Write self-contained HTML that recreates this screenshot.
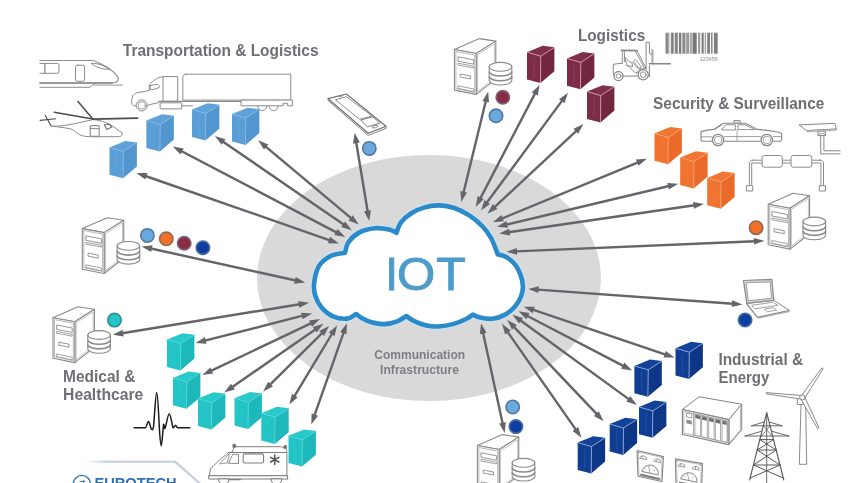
<!DOCTYPE html>
<html><head><meta charset="utf-8"><title>IOT</title>
<style>html,body{margin:0;padding:0;background:#fff;}body{width:857px;height:483px;overflow:hidden;font-family:"Liberation Sans",sans-serif;}</style>
</head><body>
<svg width="857" height="483" viewBox="0 0 857 483" style="display:block;font-family:'Liberation Sans',sans-serif;will-change:transform;filter:blur(0.55px)">
<defs><symbol id="srv" overflow="visible"><g fill="#fff" stroke="#8a8a8a" stroke-width="1.1" stroke-linejoin="round">
<polygon points="0,10.9 25,0 41.4,2.5 21.8,14.9"/>
<polygon points="21.8,14.9 41.4,2.5 41.4,40.5 21.8,55.8"/>
<polygon points="23.2,16 40.2,5.2 40.2,39.4 23.2,53" stroke-width="0.5"/>
<polygon points="0,10.9 21.8,14.9 21.8,55.8 0,51.5"/>
<polygon points="1.5,12.9 20.3,16.4 20.3,53.8 1.5,50" stroke-width="0.6"/>
<polygon points="3.6,18.2 19.2,21.2 19.2,25.6 3.6,22.6" stroke-width="0.9"/>
<polygon points="3.6,24.6 19.2,27.6 19.2,29.4 3.6,26.4" stroke-width="0.8"/>
<polygon points="5.8,35.4 16,37.4 16,40.4 5.8,38.4" stroke-width="0.9"/>
<polygon points="3.6,47.2 19.2,50.4 19.2,53 3.6,49.8" stroke-width="0.8"/>
<path d="M34.8,28.2 v13.8 a11.3,4.4 0 0 0 22.6,0 v-13.8 z" />
<ellipse cx="46.1" cy="28.2" rx="11.3" ry="4.4"/>
<path d="M34.8,33 a11.3,4.4 0 0 0 22.6,0 M34.8,37.7 a11.3,4.4 0 0 0 22.6,0" fill="none" stroke-width="1.6"/>
</g></symbol></defs>
<rect width="857" height="483" fill="#fff"/>
<ellipse cx="429" cy="278" rx="172" ry="123" fill="#d9d9d9"/>
<g id="arrows">
<line x1="145.4" y1="176.0" x2="329.9" y2="240.3" stroke="#63656b" stroke-width="2.4"/><polygon points="338.9,243.4 327.9,243.2 330.1,236.7" fill="#63656b"/><polygon points="136.4,172.9 145.2,179.6 147.4,173.1" fill="#63656b"/>
<line x1="181.2" y1="151.0" x2="336.8" y2="232.6" stroke="#63656b" stroke-width="2.4"/><polygon points="345.2,237.0 334.3,235.1 337.5,229.1" fill="#63656b"/><polygon points="172.8,146.6 180.5,154.5 183.7,148.5" fill="#63656b"/>
<line x1="222.7" y1="141.4" x2="344.0" y2="224.8" stroke="#63656b" stroke-width="2.4"/><polygon points="351.8,230.2 341.2,227.0 345.1,221.4" fill="#63656b"/><polygon points="214.9,136.0 221.6,144.8 225.5,139.2" fill="#63656b"/>
<line x1="265.4" y1="146.4" x2="351.4" y2="218.4" stroke="#63656b" stroke-width="2.4"/><polygon points="358.7,224.5 348.5,220.4 352.8,215.2" fill="#63656b"/><polygon points="258.1,140.3 264.0,149.6 268.3,144.4" fill="#63656b"/>
<line x1="356.2" y1="142.2" x2="367.7" y2="211.7" stroke="#63656b" stroke-width="2.4"/><polygon points="369.2,221.1 364.1,211.3 370.9,210.2" fill="#63656b"/><polygon points="354.7,132.8 353.0,143.7 359.8,142.6" fill="#63656b"/>
<line x1="485.9" y1="100.7" x2="463.5" y2="192.7" stroke="#63656b" stroke-width="2.4"/><polygon points="461.2,201.9 460.4,190.9 467.0,192.5" fill="#63656b"/><polygon points="488.2,91.5 482.4,100.9 489.0,102.5" fill="#63656b"/>
<line x1="535.2" y1="93.1" x2="480.2" y2="198.6" stroke="#63656b" stroke-width="2.4"/><polygon points="475.8,207.0 477.6,196.1 483.7,199.3" fill="#63656b"/><polygon points="539.6,84.7 531.7,92.4 537.8,95.6" fill="#63656b"/>
<line x1="562.3" y1="100.4" x2="486.7" y2="202.8" stroke="#63656b" stroke-width="2.4"/><polygon points="481.0,210.4 484.5,199.9 490.0,204.0" fill="#63656b"/><polygon points="568.0,92.8 559.0,99.2 564.5,103.3" fill="#63656b"/>
<line x1="576.6" y1="130.6" x2="494.3" y2="207.3" stroke="#63656b" stroke-width="2.4"/><polygon points="487.4,213.8 492.8,204.1 497.4,209.1" fill="#63656b"/><polygon points="583.5,124.1 573.5,128.8 578.1,133.8" fill="#63656b"/>
<line x1="638.1" y1="162.3" x2="501.7" y2="218.6" stroke="#63656b" stroke-width="2.4"/><polygon points="492.9,222.2 501.3,215.1 503.9,221.3" fill="#63656b"/><polygon points="646.9,158.7 635.9,159.6 638.5,165.8" fill="#63656b"/>
<line x1="669.1" y1="186.0" x2="506.2" y2="224.6" stroke="#63656b" stroke-width="2.4"/><polygon points="497.0,226.8 506.4,221.1 508.0,227.7" fill="#63656b"/><polygon points="678.3,183.8 667.3,182.9 668.9,189.5" fill="#63656b"/>
<line x1="694.5" y1="205.3" x2="508.6" y2="232.2" stroke="#63656b" stroke-width="2.4"/><polygon points="499.2,233.6 509.1,228.7 510.1,235.5" fill="#63656b"/><polygon points="703.9,203.9 693.0,202.0 694.0,208.8" fill="#63656b"/>
<line x1="754.9" y1="241.2" x2="516.0" y2="251.4" stroke="#63656b" stroke-width="2.4"/><polygon points="506.5,251.8 516.8,248.0 517.1,254.7" fill="#63656b"/><polygon points="764.4,240.8 753.8,237.9 754.1,244.6" fill="#63656b"/>
<line x1="732.9" y1="303.7" x2="537.7" y2="289.6" stroke="#63656b" stroke-width="2.4"/><polygon points="528.2,288.9 538.9,286.3 538.4,293.0" fill="#63656b"/><polygon points="742.4,304.4 732.2,300.3 731.7,307.0" fill="#63656b"/>
<line x1="665.6" y1="354.6" x2="532.8" y2="309.7" stroke="#63656b" stroke-width="2.4"/><polygon points="523.8,306.7 534.8,306.8 532.7,313.3" fill="#63656b"/><polygon points="674.6,357.6 665.7,351.0 663.6,357.5" fill="#63656b"/>
<line x1="623.7" y1="366.1" x2="527.0" y2="315.7" stroke="#63656b" stroke-width="2.4"/><polygon points="518.6,311.3 529.5,313.1 526.3,319.2" fill="#63656b"/><polygon points="632.1,370.5 624.4,362.6 621.2,368.7" fill="#63656b"/>
<line x1="629.1" y1="399.4" x2="520.2" y2="320.3" stroke="#63656b" stroke-width="2.4"/><polygon points="512.5,314.7 523.0,318.1 519.0,323.6" fill="#63656b"/><polygon points="636.8,405.0 630.3,396.1 626.3,401.6" fill="#63656b"/>
<line x1="597.1" y1="414.3" x2="513.7" y2="326.6" stroke="#63656b" stroke-width="2.4"/><polygon points="507.2,319.7 516.9,325.0 512.0,329.7" fill="#63656b"/><polygon points="603.6,421.2 598.8,411.2 593.9,415.9" fill="#63656b"/>
<line x1="576.0" y1="429.9" x2="507.4" y2="331.6" stroke="#63656b" stroke-width="2.4"/><polygon points="502.0,323.8 510.8,330.5 505.2,334.4" fill="#63656b"/><polygon points="581.4,437.7 578.2,427.1 572.6,431.0" fill="#63656b"/>
<line x1="502.7" y1="423.7" x2="483.0" y2="332.6" stroke="#63656b" stroke-width="2.4"/><polygon points="481.0,323.3 486.5,332.8 479.9,334.3" fill="#63656b"/><polygon points="504.7,433.0 505.8,422.0 499.2,423.5" fill="#63656b"/>
<line x1="314.4" y1="415.6" x2="343.8" y2="332.2" stroke="#63656b" stroke-width="2.4"/><polygon points="346.9,323.2 346.6,334.2 340.2,332.0" fill="#63656b"/><polygon points="311.3,424.6 318.0,415.8 311.6,413.6" fill="#63656b"/>
<line x1="294.3" y1="396.3" x2="332.2" y2="333.5" stroke="#63656b" stroke-width="2.4"/><polygon points="337.1,325.4 334.6,336.1 328.8,332.6" fill="#63656b"/><polygon points="289.4,404.4 297.7,397.2 291.9,393.7" fill="#63656b"/>
<line x1="269.8" y1="384.8" x2="322.4" y2="332.8" stroke="#63656b" stroke-width="2.4"/><polygon points="329.1,326.1 324.0,335.9 319.2,331.1" fill="#63656b"/><polygon points="263.1,391.5 273.0,386.5 268.2,381.7" fill="#63656b"/>
<line x1="232.0" y1="387.2" x2="315.6" y2="329.2" stroke="#63656b" stroke-width="2.4"/><polygon points="323.4,323.8 316.7,332.6 312.8,327.0" fill="#63656b"/><polygon points="224.2,392.6 234.8,389.4 230.9,383.8" fill="#63656b"/>
<line x1="210.9" y1="370.9" x2="311.4" y2="323.2" stroke="#63656b" stroke-width="2.4"/><polygon points="320.0,319.1 312.0,326.7 309.1,320.5" fill="#63656b"/><polygon points="202.3,375.0 213.2,373.6 210.3,367.4" fill="#63656b"/>
<line x1="204.8" y1="340.7" x2="302.8" y2="315.7" stroke="#63656b" stroke-width="2.4"/><polygon points="312.0,313.4 302.7,319.3 301.0,312.7" fill="#63656b"/><polygon points="195.6,343.0 206.6,343.7 204.9,337.1" fill="#63656b"/>
<line x1="122.2" y1="333.2" x2="299.7" y2="304.2" stroke="#63656b" stroke-width="2.4"/><polygon points="309.1,302.7 299.3,307.7 298.2,301.0" fill="#63656b"/><polygon points="112.8,334.7 123.7,336.4 122.6,329.7" fill="#63656b"/>
<line x1="150.9" y1="248.5" x2="295.9" y2="280.5" stroke="#63656b" stroke-width="2.4"/><polygon points="305.2,282.6 294.2,283.7 295.7,277.0" fill="#63656b"/><polygon points="141.6,246.4 151.1,252.0 152.6,245.3" fill="#63656b"/>
</g>
<path d="M356,314 C354.5,314.8 350.8,318.2 347.0,318.6 C343.2,319.0 337.2,318.1 333.0,316.3 C328.8,314.5 324.8,311.2 321.8,307.7 C318.8,304.2 316.5,299.7 315.2,295.5 C313.9,291.3 313.6,287.4 314.2,282.5 C314.8,277.6 316.3,270.4 319.0,266.0 C321.7,261.6 325.9,258.4 330.2,256.2 C334.5,254.0 342.5,253.4 345.0,252.8 C345.6,251.0 346.2,245.4 348.6,242.0 C351.0,238.6 355.1,234.7 359.5,232.4 C363.9,230.1 370.1,228.7 375.0,228.2 C379.9,227.7 385.4,228.8 389.0,229.6 C392.6,230.4 395.2,232.3 396.5,232.8 C397.2,231.1 398.6,225.6 401.0,222.4 C403.4,219.2 407.1,216.0 410.9,213.5 C414.7,211.0 419.2,208.9 423.9,207.6 C428.6,206.2 434.0,205.3 439.1,205.4 C444.2,205.5 449.2,206.3 454.3,208.0 C459.4,209.7 464.9,212.6 469.6,215.7 C474.3,218.8 479.0,222.7 482.6,226.5 C486.2,230.3 489.0,234.3 491.3,238.5 C493.6,242.7 495.6,248.9 496.7,251.5 C497.8,254.1 497.5,253.8 497.6,254.3 C499.1,254.8 503.6,255.5 506.5,257.2 C509.4,258.9 512.8,261.6 515.2,264.6 C517.6,267.6 519.4,271.8 520.7,275.4 C522.0,279.0 522.8,282.9 522.9,286.3 C523.0,289.7 522.5,292.7 521.2,296.0 C520.0,299.3 518.1,302.8 515.4,305.9 C512.7,309.0 509.0,312.5 505.1,314.6 C501.2,316.8 496.5,318.3 492.3,318.8 C488.1,319.3 483.2,318.3 480.0,317.6 C476.8,316.9 474.2,315.1 473.0,314.6 C471.9,315.3 469.8,317.2 466.6,318.8 C463.4,320.4 458.5,322.6 453.8,323.9 C449.1,325.2 443.1,326.3 438.4,326.5 C433.7,326.7 429.8,326.2 425.5,325.2 C421.2,324.2 415.9,321.8 412.7,320.3 C409.5,318.8 407.4,316.7 406.3,316.0 C404.8,316.9 400.9,319.9 397.3,321.3 C393.7,322.7 388.8,323.9 384.5,324.1 C380.2,324.3 375.5,323.4 371.6,322.3 C367.7,321.2 363.9,319.1 361.3,317.7 C358.7,316.3 356.9,314.6 356.0,314.0 Z" fill="#fff" stroke="#cfe5f3" stroke-width="7" stroke-linejoin="round" opacity="0.8"/>
<path d="M356,314 C354.5,314.8 350.8,318.2 347.0,318.6 C343.2,319.0 337.2,318.1 333.0,316.3 C328.8,314.5 324.8,311.2 321.8,307.7 C318.8,304.2 316.5,299.7 315.2,295.5 C313.9,291.3 313.6,287.4 314.2,282.5 C314.8,277.6 316.3,270.4 319.0,266.0 C321.7,261.6 325.9,258.4 330.2,256.2 C334.5,254.0 342.5,253.4 345.0,252.8 C345.6,251.0 346.2,245.4 348.6,242.0 C351.0,238.6 355.1,234.7 359.5,232.4 C363.9,230.1 370.1,228.7 375.0,228.2 C379.9,227.7 385.4,228.8 389.0,229.6 C392.6,230.4 395.2,232.3 396.5,232.8 C397.2,231.1 398.6,225.6 401.0,222.4 C403.4,219.2 407.1,216.0 410.9,213.5 C414.7,211.0 419.2,208.9 423.9,207.6 C428.6,206.2 434.0,205.3 439.1,205.4 C444.2,205.5 449.2,206.3 454.3,208.0 C459.4,209.7 464.9,212.6 469.6,215.7 C474.3,218.8 479.0,222.7 482.6,226.5 C486.2,230.3 489.0,234.3 491.3,238.5 C493.6,242.7 495.6,248.9 496.7,251.5 C497.8,254.1 497.5,253.8 497.6,254.3 C499.1,254.8 503.6,255.5 506.5,257.2 C509.4,258.9 512.8,261.6 515.2,264.6 C517.6,267.6 519.4,271.8 520.7,275.4 C522.0,279.0 522.8,282.9 522.9,286.3 C523.0,289.7 522.5,292.7 521.2,296.0 C520.0,299.3 518.1,302.8 515.4,305.9 C512.7,309.0 509.0,312.5 505.1,314.6 C501.2,316.8 496.5,318.3 492.3,318.8 C488.1,319.3 483.2,318.3 480.0,317.6 C476.8,316.9 474.2,315.1 473.0,314.6 C471.9,315.3 469.8,317.2 466.6,318.8 C463.4,320.4 458.5,322.6 453.8,323.9 C449.1,325.2 443.1,326.3 438.4,326.5 C433.7,326.7 429.8,326.2 425.5,325.2 C421.2,324.2 415.9,321.8 412.7,320.3 C409.5,318.8 407.4,316.7 406.3,316.0 C404.8,316.9 400.9,319.9 397.3,321.3 C393.7,322.7 388.8,323.9 384.5,324.1 C380.2,324.3 375.5,323.4 371.6,322.3 C367.7,321.2 363.9,319.1 361.3,317.7 C358.7,316.3 356.9,314.6 356.0,314.0 Z" fill="#fff" stroke="#2b8aca" stroke-width="4.6" stroke-linejoin="round"/>
<g font-size="46" fill="#4c9bcb" stroke="#4c9bcb" stroke-width="0.9"><text x="385.2" y="289.8">I</text><text x="397" y="289.8" textLength="38.3" lengthAdjust="spacingAndGlyphs">O</text><text x="436.2" y="289.8" textLength="29.5" lengthAdjust="spacingAndGlyphs">T</text></g>
<text x="122.8" y="56.0" font-size="16.3" font-weight="bold" fill="#6d6f74" textLength="195.7" lengthAdjust="spacingAndGlyphs">Transportation &amp; Logistics</text>
<text x="577.9" y="41.2" font-size="16.3" font-weight="bold" fill="#6d6f74" textLength="67.3" lengthAdjust="spacingAndGlyphs">Logistics</text>
<text x="653.1" y="109.0" font-size="16.3" font-weight="bold" fill="#6d6f74" textLength="171.2" lengthAdjust="spacingAndGlyphs">Security &amp; Surveillance</text>
<text x="718.4" y="364.5" font-size="16.3" font-weight="bold" fill="#6d6f74" textLength="84.7" lengthAdjust="spacingAndGlyphs">Industrial &amp;</text>
<text x="718.5" y="383.1" font-size="16.3" font-weight="bold" fill="#6d6f74" textLength="50.8" lengthAdjust="spacingAndGlyphs">Energy</text>
<text x="63.1" y="381.5" font-size="16.3" font-weight="bold" fill="#6d6f74" textLength="72.3" lengthAdjust="spacingAndGlyphs">Medical &amp;</text>
<text x="63.1" y="399.9" font-size="16.3" font-weight="bold" fill="#6d6f74" textLength="80.2" lengthAdjust="spacingAndGlyphs">Healthcare</text>
<text x="374.2" y="359.3" font-size="12" font-weight="bold" fill="#7d7f84" textLength="91" lengthAdjust="spacingAndGlyphs">Communication</text>
<text x="380.1" y="373.9" font-size="12" font-weight="bold" fill="#7d7f84" textLength="78.8" lengthAdjust="spacingAndGlyphs">Infrastructure</text>
<g id="icons"><g id="train" fill="none" stroke="#8b8b8b" stroke-width="1" stroke-linecap="round" stroke-linejoin="round">
<path d="M39.9,60.5 H92 C96,60.6 98,62.3 107.3,67.5 C112,70.3 116,74 118.2,77.6 C119,80.5 116.5,83 112,83 H39.9" stroke-width="1.1"/>
<path d="M39.9,83 H112" stroke-width="1.4"/>
<path d="M94.5,85.1 H122.5" stroke-width="0.9"/>
<path d="M39.9,87.3 H89.8 L95.1,83.3"/>
<path d="M39.9,63.4 H57.2 a1.7,1.7 0 0 1 1.7,1.7 V71.6 a1.7,1.7 0 0 1 -1.7,1.7 H39.9"/>
<path d="M44.9,63.4 V73.3" stroke-width="1.3"/>
<rect x="75.5" y="65.2" width="9.1" height="16.1" rx="1.8"/>
<path d="M91.6,63.5 C96,62.8 101,64.2 109.7,69.3 C103,69.6 96,67.6 91.6,63.5 Z"/>
</g>
<g id="heli" fill="none" stroke-linecap="round" stroke-linejoin="round">
<g stroke="#8a8a8a" stroke-width="1">
<path d="M51,125.8 L69.7,128.6 C73,129.3 75,131.5 77.4,133.5 C81,135.7 85,136.7 88.9,136.7 H119.2 C121.5,136.5 122.6,134.5 122.2,132.9 L112,125.8 C108,123.3 104,121.6 99,120.4 L93,119.6"/>
<path d="M91.5,120 C85,121.3 79,122.8 73.5,123.9 C66,125.3 59,126.3 52.5,126.4"/>
<rect x="90.2" y="125.6" width="9" height="10.6" rx="1.2" stroke-width="1.1"/>
<path d="M90.5,128.6 H99"/>
<path d="M104.3,124.8 L109.5,124.3 L111.8,127.1 L106.9,129.4 Z" stroke="#6f6f6f" stroke-width="1.1"/>
</g>
<g stroke="#4d4d4d">
<path d="M92.8,119.1 L78,101.4" stroke-width="1.5"/>
<path d="M92.8,119.1 L54.3,112.3" stroke-width="1.5"/>
<path d="M92.8,119.1 L137.7,118.1" stroke-width="1.6"/>
<path d="M40.1,120.4 L55.5,118.7" stroke-width="1.1"/>
<path d="M45.3,115.5 L51,125.8" stroke-width="1.1"/>
</g>
</g>
<g id="truck" fill="#fff" stroke="#8b8b8b" stroke-width="1" stroke-linejoin="round" stroke-linecap="round">
<path d="M186,74.2 H290.8 V100.1 H182.8 V77.4 a3.2,3.2 0 0 1 3.2,-3.2 Z"/>
<path d="M163.4,76.6 H177.7 V101.3 H163.4 Z"/>
<path d="M163.4,76.6 C160,77 157.5,78 155.6,79.3 C153,81 151,82.8 149.5,84.4 L149.1,90.5 C145,91.5 141,92 137.3,92.6 C135,93.5 133.5,94.5 132.8,95.6 C132,98 131.5,100.5 131.5,102.8 C132,104.5 133,105.5 134.2,105.8 H136 M147.4,105.4 C150,104.6 154,103.6 158.7,102.6 L160,101.3 H163.4" fill="none"/>
<path d="M150.5,85.6 C153,84.8 155.5,84.4 157.7,84.4 C159,85.2 159.5,86.4 159.3,87.5 C156.5,88.8 153.5,89.6 150.5,89.9 Z"/>
<path d="M158.7,101.3 H241.4" fill="none" stroke-width="1.2"/>
<rect x="160.1" y="102.8" width="21.7" height="6.1" rx="0.8"/>
<path d="M181.8,105.8 H192.4" fill="none"/>
<path d="M241.4,100.1 H292.4 V105.8 H287.6 V103.3 H283.2 V105.8 H241.4 Z"/>
<path d="M257.6,106 a4.6,4.6 0 0 0 9.2,0 M268.9,106 a4.6,4.6 0 0 0 9.2,0" fill="none"/>
<circle cx="141.7" cy="105.4" r="5.6"/>
<circle cx="141.7" cy="105.4" r="3.7" stroke-width="0.9"/>
</g>
<g id="phone" fill="#fff" stroke="#747474" stroke-width="1.1" stroke-linejoin="round">
<path d="M328.1,100.5 L368.2,135.4 L386,128.4 V126.2 L368.2,133.2 L328.1,98.7 Z" stroke-width="0.9"/>
<path d="M328.1,98.7 L346.4,94 L386,126.2 L368.2,133.2 Z" stroke-width="1.2"/>
<path d="M335.5,99.8 L346.4,96.7 L372,116.1 L359.6,119.2 Z" stroke-width="0.8"/>
<path d="M360.7,120 L372.8,116.8 L379.8,123.1 L367.4,126.9 Z" stroke-width="0.9"/>
<ellipse cx="375.1" cy="126.6" rx="3.1" ry="1.1" transform="rotate(-18 375.1 126.6)" stroke-width="0.8"/>
<path d="M338.6,96.9 L343.4,95.7" stroke-width="0.8"/>
</g>
<g id="forklift" fill="none" stroke="#858585" stroke-width="1" stroke-linejoin="round" stroke-linecap="round">
<path d="M646.1,68.5 V42.3 H649.4 V53.2 C649.6,54.6 651.4,54.4 652.2,53.4"/>
<path d="M649.4,65.6 V77"/>
<path d="M652,63.7 V49.4 M652.9,63.7 V50.4" stroke-width="0.8"/>
<path d="M649.4,63.8 H670.4" stroke-width="1.5"/>
<path d="M621.3,50.4 L637,50.6" stroke-width="1.6"/>
<path d="M637,50.6 L646.1,68.5 M635.4,51.4 L644.6,68.3" stroke-width="0.9"/>
<path d="M622.3,50.9 V63.2 M624.4,50.9 V61.8" stroke-width="0.9"/>
<path d="M622.3,63.2 L613.7,64.2 C613.2,66 613.1,68 613.2,70.4 C613.2,72.6 613.4,74 613.8,75.6"/>
<path d="M623.2,76.1 H638"/>
<path d="M636.6,73.2 C637,70.8 639.6,69 643.2,68.8 L646.1,68.5" />
<path d="M624.6,57 L627,65.6 L632.8,66.6 L631.8,62.8 L628,60.9 L625.6,57.5 Z" stroke-width="0.9"/>
<path d="M627,65.6 C629,66 630.5,67.4 632,69.6 C633.4,71.8 635,72.8 637,72.6" stroke-width="0.9"/>
<path d="M635.6,59.9 L641.3,66.6 L639.4,68.5 L633.7,61.8 Z" stroke-width="0.9"/>
<path d="M632.8,62.4 L637,67.8 L641.2,68.4" stroke-width="0.8"/>
<circle cx="618.5" cy="76.1" r="4.5" fill="#fff" stroke-width="1.2"/>
<ellipse cx="618.5" cy="76.1" rx="2.5" ry="2.1" stroke-width="0.9"/>
<circle cx="643.2" cy="74.7" r="5.1" fill="#fff" stroke-width="1.2"/>
<circle cx="643.2" cy="74.7" r="2.9" stroke-width="0.9"/>
</g>
<g id="barcode" fill="#7c7c7c">
<rect x="665.5" y="32.7" width="3.2" height="21" fill="#8a8a8a"/>
<rect x="669.4" y="32.7" width="0.9" height="21" fill="#bdbdbd"/>
<rect x="671.1" y="32.7" width="2.5" height="21"/>
<rect x="674.7" y="32.7" width="3.1" height="21" fill="#858585"/>
<rect x="678.9" y="32.7" width="2.4" height="21"/>
<rect x="682.3" y="32.7" width="3.2" height="21" fill="#8c8c8c"/>
<rect x="686.2" y="32.7" width="2.8" height="21" fill="#9a9a9a"/>
<rect x="689.7" y="32.7" width="2.1" height="21" fill="#a5a5a5"/>
<rect x="692.5" y="32.7" width="4.2" height="21" fill="#777"/>
<rect x="698.1" y="32.7" width="2.1" height="21" fill="#9a9a9a"/>
<rect x="701.6" y="32.7" width="2.1" height="21"/>
<rect x="704.7" y="32.7" width="1.4" height="21" fill="#a0a0a0"/>
<rect x="707.2" y="32.7" width="2.8" height="21" fill="#808080"/>
<rect x="711.1" y="32.7" width="1.4" height="21"/>
<rect x="713.9" y="32.7" width="3.8" height="21" fill="#808080"/>
</g>
<text x="699.8" y="61" font-size="4.6" fill="#8a8a8a" textLength="18" lengthAdjust="spacingAndGlyphs">123456</text>
<g id="police" fill="none" stroke="#878787" stroke-width="1" stroke-linejoin="round" stroke-linecap="round">
<path d="M701.2,131.6 C705,130.6 709,129.8 713.9,129.4 L721.5,124.3 C723,123.6 724.5,123.3 726.2,123.3 H745.1 C749,124.8 753,127 757.4,129.4 C764,130 770,130.8 776.3,131.8 C779,132.3 781,133 781.6,133.8 V140 L780.4,141.3 H773.3 M760.4,141.3 H724.6 M711.6,141.3 H702.4 L701,140.2 V131.8" stroke-width="1.1"/>
<path d="M701.2,136.8 H711.8 M724.4,136.6 H760.6 M773.2,136.6 H781.4" stroke-width="0.8"/>
<path d="M715.2,129.3 L721.8,124.9" stroke-width="0.8"/>
<path d="M721.6,129.6 L726,124.8 H735.4 V129.6 Z" stroke-width="0.9"/>
<path d="M738.4,124.8 H745 L755.4,129.6 H738.4 Z" stroke-width="0.9"/>
<path d="M737,129.6 V140.8" stroke-width="0.7"/>
<rect x="733.8" y="120.6" width="6.6" height="2.6" rx="0.6" fill="#e6e6e6"/>
<circle cx="718.1" cy="140" r="5.7" fill="#fff" stroke-width="1.3"/>
<circle cx="718.1" cy="140" r="3.7" stroke-width="0.8"/>
<circle cx="766.8" cy="140" r="5.7" fill="#fff" stroke-width="1.3"/>
<circle cx="766.8" cy="140" r="3.7" stroke-width="0.8"/>
</g>
<g id="camera" fill="#fff" stroke="#878787" stroke-width="1" stroke-linejoin="round">
<path d="M799,124.9 L834.9,123.3 L836.4,129 L806.5,130.6 Z"/>
<path d="M806.5,130.6 L836.4,129 V130.2 L807.4,131.8 Z" stroke-width="0.7"/>
<path d="M817.9,131.2 H825.4 V135.6 H817.9 Z"/>
<path d="M819.4,135.6 V133.6 H824.2 V135.6" fill="none" stroke-width="0.7"/>
<path d="M820.7,135.6 V153.9 H840.6 M823.9,135.6 V150.8 H840.6" fill="none"/>
</g>
<g id="detector" fill="#fff" stroke="#8b8b8b" stroke-width="1" stroke-linejoin="round">
<path d="M751.7,160.2 H820.7 M751.7,163 H820.7" fill="none"/>
<path d="M749.4,185.7 V162.4 L751.7,160.2 H753.6 M751.7,185.7 V163" fill="none"/>
<path d="M823.5,185.7 V162.4 L821.3,160.2 H819 M820.9,185.7 V163" fill="none"/>
<rect x="762.1" y="155.5" width="20.2" height="11.7" rx="2.2"/>
<rect x="791" y="155.5" width="20.8" height="11.7" rx="2.2"/>
<rect x="746.4" y="185.7" width="6.3" height="5.3"/>
<rect x="819.3" y="185.7" width="6.2" height="5.3"/>
</g>
<g id="laptop" fill="#fff" stroke="#8a8a8a" stroke-width="1" stroke-linejoin="round">
<path d="M757.6,318.2 L789.3,311.6 V310.4 L757.6,317.1 L746.8,303.4 V304.6 Z" stroke-width="0.8"/>
<path d="M746.8,303.4 L773.8,300.3 L789.3,310.4 L757.6,317.1 Z"/>
<path d="M743.5,280.5 L771.8,279.4 L773.8,300.3 L746.8,303.4 Z" stroke-width="1.2" fill="#d6d6d6"/>
<path d="M746.2,282.8 L770.1,281.9 L771.5,298.3 L748.2,300.7 Z" stroke-width="0.8"/>
<path d="M751.5,305.3 L773.1,302.3 L777.8,305.3 L754.9,308.8 Z" stroke-width="0.8"/>
<path d="M764.3,309.1 L773.1,307.7 L776.5,310.1 L767.4,311.8 Z" stroke-width="0.8"/>
</g>
<g id="plc" fill="#fff" stroke="#858585" stroke-width="1" stroke-linejoin="round">
<path d="M682.4,409.5 L699.2,396.8 L741.7,404.2 L728.9,419.6 Z"/>
<path d="M728.9,419.6 L741.7,404.2 V429.8 L728.9,444.6 Z"/>
<path d="M740.4,407.4 V430.2 L729.9,442.4" fill="none" stroke-width="0.6"/>
<path d="M682.4,409.5 L728.9,419.6 V444.6 L682.4,434.5 Z" stroke-width="1.2"/>
<path d="M683.8,411.4 L727.6,420.9 V442.6 L683.8,433.1 Z" stroke-width="0.6"/>
<path d="M686.4,412.9 L691.8,414.1 V418.1 L686.4,416.9 Z" stroke-width="0.8"/>
<path d="M686.4,419.6 L691.8,420.8 V424.4 L686.4,423.2 Z" fill="#8d8d8d" stroke="none"/>
<path d="M693.5,412.8 V435.9" fill="none" stroke-width="0.7"/>
<g stroke-width="0.7">
<path d="M694.9,414.2 L700.6,415.4 V436.4 L694.9,435.2 Z"/>
<path d="M701.7,415.8 L707.3,417 V438 L701.7,436.8 Z"/>
<path d="M708.7,417.3 L714.1,418.5 V439.6 L708.7,438.4 Z"/>
<path d="M715.4,418.8 L720.5,419.9 V441 L715.4,439.9 Z"/>
<path d="M722.1,420.2 L727.1,421.3 V442.4 L722.1,441.3 Z"/>
</g>
<g fill="#6f6f6f" stroke="none">
<path d="M695.3,414.7 L700.2,415.8 V419.2 L695.3,418.1 Z"/>
<path d="M702.1,416.3 L706.9,417.4 V420.8 L702.1,419.7 Z"/>
<path d="M709.1,417.8 L713.7,418.9 V422.3 L709.1,421.2 Z"/>
<path d="M715.8,419.3 L720.1,420.3 V423.7 L715.8,422.7 Z"/>
<path d="M722.5,420.7 L726.7,421.7 V425.1 L722.5,424.1 Z"/>
</g>
</g>
<g id="pylon" fill="none" stroke="#585858" stroke-width="1" stroke-linejoin="round" stroke-linecap="round">
<path d="M766.7,412.7 V483" stroke-width="0.9"/>
<path d="M766.7,412.7 L749.6,480 M766.7,412.7 L783.8,480" stroke-width="1.1"/>
<path d="M751.5,425.8 L763.6,422.2 M751.5,425.8 H782 M782,425.8 L769.8,422.2" stroke-width="0.9"/>
<path d="M745.1,436 L761.2,431.4 M745.1,436 H788.9 M788.9,436 L772.2,431.4" stroke-width="0.9"/>
<path d="M759.9,439.6 H773.5 M757.2,450 H776.2 M753.4,465 H780"/>
<path d="M759.9,439.6 L776.2,450 M773.5,439.6 L757.2,450"/>
<path d="M757.2,450 L780,465 M776.2,450 L753.4,465"/>
<path d="M753.4,465 L783.2,478 M780,465 L750.2,478"/>
<path d="M763.4,425.8 L772,436 M770,425.8 L761.4,436" stroke-width="0.7"/>
</g>
<g id="turbine" fill="#fff" stroke="#7d7d7d" stroke-width="0.9" stroke-linejoin="round">
<path d="M801.1,402 L799.3,464.3 H806.7 L805.6,402 Z"/>
<path d="M797.3,397.6 H803 V404.5 H797.3 Z"/>
<path d="M801,396.2 L821.9,367.8 L823.2,368.6 L804.6,398.4 Z"/>
<path d="M802.4,395.6 L766.2,392.6 L766.2,393.8 L800.6,399 Z"/>
<path d="M800.6,398.6 L817.6,428.6 L819,427.8 L804.6,396.8 Z"/>
<circle cx="802.3" cy="397.4" r="2.6" stroke-width="1"/>
</g>
<g id="meter1" fill="#fff" stroke="#858585" stroke-width="0.9" stroke-linejoin="round">
<path d="M637.1,450.5 L663.4,456.6 L662,481.5 L637.9,476.2 Z" stroke-width="1.1"/>
<path d="M638.3,452 L662.2,457.6 L661,480 L639,475.2 Z" stroke-width="0.5"/>
<path d="M639.6,458.2 a3.6,3.6 0 0 1 7,1.5 Z M641.6,455.8 L643.2,458.4" stroke-width="0.8"/>
<path d="M653.6,461.2 a3.6,3.6 0 0 1 7,1.5 Z M657.2,459 L656.8,461.6" stroke-width="0.8"/>
<path d="M641.8,471.4 a8.4,8.4 0 0 1 16.4,3.6 Z" stroke-width="1"/>
<path d="M648.4,465.4 L650.2,472.8 M644.4,467.8 L645.6,469.4 M654.8,469.4 L653.8,471" stroke-width="0.7" fill="none"/>
<path d="M640.4,473.6 L659.8,477.9 L659.6,480 L640.3,475.7 Z" fill="#7d7d7d" stroke="none"/>
<circle cx="638.8" cy="452.6" r="0.6" fill="#666" stroke="none"/><circle cx="661.8" cy="458" r="0.6" fill="#666" stroke="none"/>
</g>
<g id="meter2" fill="#fff" stroke="#858585" stroke-width="0.9" stroke-linejoin="round">
<path d="M675.4,458.9 L702.5,463.6 L701.6,490 L676,485 Z" stroke-width="1.1"/>
<path d="M676.6,460.4 L701.3,464.7 L700.5,489 L677.1,484 Z" stroke-width="0.5"/>
<path d="M678,466 a3.6,3.6 0 0 1 7,1.4 Z M680,463.6 L681.6,466.2" stroke-width="0.8"/>
<path d="M692.2,468.8 a3.6,3.6 0 0 1 7,1.4 Z M695.8,466.6 L695.4,469.2" stroke-width="0.8"/>
<path d="M680.6,478.8 a8.4,8.4 0 0 1 16.4,3.4 Z" stroke-width="1"/>
<path d="M687.2,472.8 L689,480.2 M683.2,475.2 L684.4,476.8 M693.6,476.8 L692.6,478.4" stroke-width="0.7" fill="none"/>
<path d="M679,481.4 L698.6,485.4 L698.4,487.6 L678.9,483.5 Z" fill="#7d7d7d" stroke="none"/>
<circle cx="677.2" cy="461" r="0.6" fill="#666" stroke="none"/><circle cx="700.8" cy="465.2" r="0.6" fill="#666" stroke="none"/>
</g>
<path id="ecg" d="M134.1,427.7 H145.6 C146.6,427.4 147.3,421.6 148.4,421.4 C149.6,421.4 150.2,427 151,428.2 C152.2,430.8 153,430 153.6,426 C154.6,416 155.6,392.5 156.7,392.5 C157.9,392.5 158.8,420 159.6,432 C160.2,441 160.7,445.7 161.3,445.7 C162,445.7 162.8,430 163.6,424.4 C164,423 164.4,428.8 164.8,428.8 C165.8,428.8 167.6,413.9 169.2,413.9 C170.8,413.9 172,425 173,427.6 C173.8,428.6 174.6,425.2 175.5,425.2 C176.4,425.2 176.8,427.6 177.6,427.7 H189.8" fill="none" stroke="#1a1a1a" stroke-width="1.5" stroke-linejoin="round" stroke-linecap="round"/>
<g id="ambulance" fill="#fff" stroke="#7d7d7d" stroke-width="1" stroke-linejoin="round" stroke-linecap="round">
<path d="M235,446.7 H280.5 C284,447 286.4,448.8 286.9,451.3 V475.8 H209.3 L210.5,468.8 C214,465 220,459.5 228.6,452.5 L231.6,452.3 Z"/>
<path d="M228.6,452.5 H286.6" fill="none"/>
<path d="M208.6,475.8 H287.6 V479 H208.9 Z" stroke-width="1.1"/>
<path d="M218.4,479.2 a5.4,5.4 0 0 0 10.8,0 Z M271,479.2 a5.4,5.4 0 0 0 10.8,0 Z"/>
<path d="M229.2,479.6 H240.4" fill="none" stroke-width="1.4"/>
<path d="M228.6,463 L232.7,454.3 H238.5 V463 Z" stroke-width="0.9"/>
<path d="M219.8,463.6 L229.4,453.6 L227.4,462.6 Z" stroke-width="0.8"/>
<rect x="243.2" y="453.9" width="20.4" height="9.1" rx="1.6" stroke-width="1.1"/>
<rect x="233" y="444.3" width="2.7" height="3" fill="#6a6a6a" stroke="#6a6a6a" stroke-width="0.5"/>
<rect x="284.2" y="445.5" width="2.4" height="2.9" fill="#6a6a6a" stroke="#6a6a6a" stroke-width="0.5"/>
<path d="M274.7,455 V464.4 M270.6,457.4 L278.8,462 M278.8,457.4 L270.6,462" stroke="#555" stroke-width="1.6" fill="none"/>
</g>
<g id="eurotech">
<defs><linearGradient id="bg" x1="0" x2="1"><stop offset="0" stop-color="#c6cfe0" stop-opacity="0"/><stop offset="0.25" stop-color="#c6cfe0" stop-opacity="1"/></linearGradient></defs>
<path d="M84,461.7 H175.5 L200.4,483.6 H84 Z" fill="#fff"/>
<rect x="84" y="460.6" width="91.8" height="2.2" fill="url(#bg)"/>
<path d="M175,461.7 L200.2,483.8" fill="none" stroke="#c6cfe0" stroke-width="2.3"/>
<text x="94.4" y="488.2" font-size="14.9" font-weight="bold" fill="#2e6fb7" textLength="82.2" lengthAdjust="spacingAndGlyphs">EUROTECH</text>
<circle cx="81.9" cy="484" r="8.6" fill="none" stroke="#2e6fb7" stroke-width="1.4"/>
<path d="M79.6,481.4 H84.6 M83.2,480.4 L84.8,481.4 L83.2,482.4" fill="none" stroke="#2e6fb7" stroke-width="1"/>
</g>
</g>
<g id="servers">
<use href="#srv" x="454.4" y="38.6"/>
<use href="#srv" x="768.2" y="193.3"/>
<use href="#srv" x="477.4" y="434.6"/>
<use href="#srv" x="82.3" y="217.7"/>
<use href="#srv" x="53.0" y="306.8"/>
</g>
<g id="cubes">
<polygon points="109.5,147.4 123.3,151.4 123.0,178.2 109.5,174.7" fill="#5b9ed6"/><polygon points="123.3,151.4 136.9,142.5 136.9,166.4 123.0,178.2" fill="#5296d0"/><polygon points="109.5,147.4 125.1,141.0 136.9,142.5 123.3,151.4" fill="#5fa2d9"/><polyline points="109.5,147.4 123.3,151.4 136.9,142.5" fill="none" stroke="#80b5e3" stroke-width="0.9"/><line x1="123.3" y1="151.4" x2="123.0" y2="178.2" stroke="#80b5e3" stroke-width="0.9"/><line x1="116.7" y1="152.8" x2="116.5" y2="172.8" stroke="#80b5e3" stroke-width="0.5" opacity="0.35"/>
<polygon points="146.4,120.6 160.2,124.6 159.9,151.4 146.4,147.9" fill="#5b9ed6"/><polygon points="160.2,124.6 173.8,115.7 173.8,139.6 159.9,151.4" fill="#5296d0"/><polygon points="146.4,120.6 162.0,114.2 173.8,115.7 160.2,124.6" fill="#5fa2d9"/><polyline points="146.4,120.6 160.2,124.6 173.8,115.7" fill="none" stroke="#80b5e3" stroke-width="0.9"/><line x1="160.2" y1="124.6" x2="159.9" y2="151.4" stroke="#80b5e3" stroke-width="0.9"/><line x1="153.6" y1="126.0" x2="153.4" y2="146.0" stroke="#80b5e3" stroke-width="0.5" opacity="0.35"/>
<polygon points="192.0,109.6 205.8,113.6 205.5,140.4 192.0,136.9" fill="#5b9ed6"/><polygon points="205.8,113.6 219.4,104.7 219.4,128.6 205.5,140.4" fill="#5296d0"/><polygon points="192.0,109.6 207.6,103.2 219.4,104.7 205.8,113.6" fill="#5fa2d9"/><polyline points="192.0,109.6 205.8,113.6 219.4,104.7" fill="none" stroke="#80b5e3" stroke-width="0.9"/><line x1="205.8" y1="113.6" x2="205.5" y2="140.4" stroke="#80b5e3" stroke-width="0.9"/><line x1="199.2" y1="115.0" x2="199.0" y2="135.0" stroke="#80b5e3" stroke-width="0.5" opacity="0.35"/>
<polygon points="232.0,114.1 245.8,118.1 245.5,144.9 232.0,141.4" fill="#5b9ed6"/><polygon points="245.8,118.1 259.4,109.2 259.4,133.1 245.5,144.9" fill="#5296d0"/><polygon points="232.0,114.1 247.6,107.7 259.4,109.2 245.8,118.1" fill="#5fa2d9"/><polyline points="232.0,114.1 245.8,118.1 259.4,109.2" fill="none" stroke="#80b5e3" stroke-width="0.9"/><line x1="245.8" y1="118.1" x2="245.5" y2="144.9" stroke="#80b5e3" stroke-width="0.9"/><line x1="239.2" y1="119.5" x2="239.0" y2="139.5" stroke="#80b5e3" stroke-width="0.5" opacity="0.35"/>
<polygon points="527.0,52.2 540.8,56.2 540.5,83.0 527.0,79.5" fill="#7c2c46"/><polygon points="540.8,56.2 554.4,47.3 554.4,71.2 540.5,83.0" fill="#72273f"/><polygon points="527.0,52.2 542.6,45.8 554.4,47.3 540.8,56.2" fill="#7f2f49"/><polyline points="527.0,52.2 540.8,56.2 554.4,47.3" fill="none" stroke="#cf9aa9" stroke-width="0.9"/><line x1="540.8" y1="56.2" x2="540.5" y2="83.0" stroke="#cf9aa9" stroke-width="0.9"/><line x1="534.2" y1="57.6" x2="534.0" y2="77.6" stroke="#cf9aa9" stroke-width="0.5" opacity="0.35"/>
<polygon points="567.0,58.4 580.8,62.4 580.5,89.2 567.0,85.7" fill="#7c2c46"/><polygon points="580.8,62.4 594.4,53.5 594.4,77.4 580.5,89.2" fill="#72273f"/><polygon points="567.0,58.4 582.6,52.0 594.4,53.5 580.8,62.4" fill="#7f2f49"/><polyline points="567.0,58.4 580.8,62.4 594.4,53.5" fill="none" stroke="#cf9aa9" stroke-width="0.9"/><line x1="580.8" y1="62.4" x2="580.5" y2="89.2" stroke="#cf9aa9" stroke-width="0.9"/><line x1="574.2" y1="63.8" x2="574.0" y2="83.8" stroke="#cf9aa9" stroke-width="0.5" opacity="0.35"/>
<polygon points="587.0,91.6 600.8,95.6 600.5,122.4 587.0,118.9" fill="#7c2c46"/><polygon points="600.8,95.6 614.4,86.7 614.4,110.6 600.5,122.4" fill="#72273f"/><polygon points="587.0,91.6 602.6,85.2 614.4,86.7 600.8,95.6" fill="#7f2f49"/><polyline points="587.0,91.6 600.8,95.6 614.4,86.7" fill="none" stroke="#cf9aa9" stroke-width="0.9"/><line x1="600.8" y1="95.6" x2="600.5" y2="122.4" stroke="#cf9aa9" stroke-width="0.9"/><line x1="594.2" y1="97.0" x2="594.0" y2="117.0" stroke="#cf9aa9" stroke-width="0.5" opacity="0.35"/>
<polygon points="654.5,133.5 668.3,137.5 668.0,164.3 654.5,160.8" fill="#f17330"/><polygon points="668.3,137.5 681.9,128.6 681.9,152.5 668.0,164.3" fill="#ea6b29"/><polygon points="654.5,133.5 670.1,127.1 681.9,128.6 668.3,137.5" fill="#f27632"/><polyline points="654.5,133.5 668.3,137.5 681.9,128.6" fill="none" stroke="#f59e70" stroke-width="0.9"/><line x1="668.3" y1="137.5" x2="668.0" y2="164.3" stroke="#f59e70" stroke-width="0.9"/><line x1="661.7" y1="138.9" x2="661.5" y2="158.9" stroke="#f59e70" stroke-width="0.5" opacity="0.35"/>
<polygon points="680.2,157.6 694.0,161.6 693.7,188.4 680.2,184.9" fill="#f17330"/><polygon points="694.0,161.6 707.6,152.7 707.6,176.6 693.7,188.4" fill="#ea6b29"/><polygon points="680.2,157.6 695.8,151.2 707.6,152.7 694.0,161.6" fill="#f27632"/><polyline points="680.2,157.6 694.0,161.6 707.6,152.7" fill="none" stroke="#f59e70" stroke-width="0.9"/><line x1="694.0" y1="161.6" x2="693.7" y2="188.4" stroke="#f59e70" stroke-width="0.9"/><line x1="687.4" y1="163.0" x2="687.2" y2="183.0" stroke="#f59e70" stroke-width="0.5" opacity="0.35"/>
<polygon points="707.2,177.9 721.0,181.9 720.7,208.7 707.2,205.2" fill="#f17330"/><polygon points="721.0,181.9 734.6,173.0 734.6,196.9 720.7,208.7" fill="#ea6b29"/><polygon points="707.2,177.9 722.8,171.5 734.6,173.0 721.0,181.9" fill="#f27632"/><polyline points="707.2,177.9 721.0,181.9 734.6,173.0" fill="none" stroke="#f59e70" stroke-width="0.9"/><line x1="721.0" y1="181.9" x2="720.7" y2="208.7" stroke="#f59e70" stroke-width="0.9"/><line x1="714.4" y1="183.3" x2="714.2" y2="203.3" stroke="#f59e70" stroke-width="0.5" opacity="0.35"/>
<polygon points="675.5,348.2 689.3,352.2 689.0,379.0 675.5,375.5" fill="#103e93"/><polygon points="689.3,352.2 702.9,343.3 702.9,367.2 689.0,379.0" fill="#0d3786"/><polygon points="675.5,348.2 691.1,341.8 702.9,343.3 689.3,352.2" fill="#12429a"/><polyline points="675.5,348.2 689.3,352.2 702.9,343.3" fill="none" stroke="#8aa6d6" stroke-width="0.9"/><line x1="689.3" y1="352.2" x2="689.0" y2="379.0" stroke="#8aa6d6" stroke-width="0.9"/><line x1="682.7" y1="353.6" x2="682.5" y2="373.6" stroke="#8aa6d6" stroke-width="0.5" opacity="0.35"/>
<polygon points="634.4,365.9 648.2,369.9 647.9,396.7 634.4,393.2" fill="#103e93"/><polygon points="648.2,369.9 661.8,361.0 661.8,384.9 647.9,396.7" fill="#0d3786"/><polygon points="634.4,365.9 650.0,359.5 661.8,361.0 648.2,369.9" fill="#12429a"/><polyline points="634.4,365.9 648.2,369.9 661.8,361.0" fill="none" stroke="#8aa6d6" stroke-width="0.9"/><line x1="648.2" y1="369.9" x2="647.9" y2="396.7" stroke="#8aa6d6" stroke-width="0.9"/><line x1="641.6" y1="371.3" x2="641.4" y2="391.3" stroke="#8aa6d6" stroke-width="0.5" opacity="0.35"/>
<polygon points="639.0,406.9 652.8,410.9 652.5,437.7 639.0,434.2" fill="#103e93"/><polygon points="652.8,410.9 666.4,402.0 666.4,425.9 652.5,437.7" fill="#0d3786"/><polygon points="639.0,406.9 654.6,400.5 666.4,402.0 652.8,410.9" fill="#12429a"/><polyline points="639.0,406.9 652.8,410.9 666.4,402.0" fill="none" stroke="#8aa6d6" stroke-width="0.9"/><line x1="652.8" y1="410.9" x2="652.5" y2="437.7" stroke="#8aa6d6" stroke-width="0.9"/><line x1="646.2" y1="412.3" x2="646.0" y2="432.3" stroke="#8aa6d6" stroke-width="0.5" opacity="0.35"/>
<polygon points="609.7,424.1 623.5,428.1 623.2,454.9 609.7,451.4" fill="#103e93"/><polygon points="623.5,428.1 637.1,419.2 637.1,443.1 623.2,454.9" fill="#0d3786"/><polygon points="609.7,424.1 625.3,417.7 637.1,419.2 623.5,428.1" fill="#12429a"/><polyline points="609.7,424.1 623.5,428.1 637.1,419.2" fill="none" stroke="#8aa6d6" stroke-width="0.9"/><line x1="623.5" y1="428.1" x2="623.2" y2="454.9" stroke="#8aa6d6" stroke-width="0.9"/><line x1="616.9" y1="429.5" x2="616.7" y2="449.5" stroke="#8aa6d6" stroke-width="0.5" opacity="0.35"/>
<polygon points="577.7,442.6 591.5,446.6 591.2,473.4 577.7,469.9" fill="#103e93"/><polygon points="591.5,446.6 605.1,437.7 605.1,461.6 591.2,473.4" fill="#0d3786"/><polygon points="577.7,442.6 593.3,436.2 605.1,437.7 591.5,446.6" fill="#12429a"/><polyline points="577.7,442.6 591.5,446.6 605.1,437.7" fill="none" stroke="#8aa6d6" stroke-width="0.9"/><line x1="591.5" y1="446.6" x2="591.2" y2="473.4" stroke="#8aa6d6" stroke-width="0.9"/><line x1="584.9" y1="448.0" x2="584.7" y2="468.0" stroke="#8aa6d6" stroke-width="0.5" opacity="0.35"/>
<polygon points="167.0,339.6 180.8,343.6 180.5,370.4 167.0,366.9" fill="#23c4c6"/><polygon points="180.8,343.6 194.4,334.7 194.4,358.6 180.5,370.4" fill="#1db8bb"/><polygon points="167.0,339.6 182.6,333.2 194.4,334.7 180.8,343.6" fill="#27c9cb"/><polyline points="167.0,339.6 180.8,343.6 194.4,334.7" fill="none" stroke="#55d4d5" stroke-width="0.9"/><line x1="180.8" y1="343.6" x2="180.5" y2="370.4" stroke="#55d4d5" stroke-width="0.9"/><line x1="174.2" y1="345.0" x2="174.0" y2="365.0" stroke="#55d4d5" stroke-width="0.5" opacity="0.35"/>
<polygon points="173.0,377.9 186.8,381.9 186.5,408.7 173.0,405.2" fill="#23c4c6"/><polygon points="186.8,381.9 200.4,373.0 200.4,396.9 186.5,408.7" fill="#1db8bb"/><polygon points="173.0,377.9 188.6,371.5 200.4,373.0 186.8,381.9" fill="#27c9cb"/><polyline points="173.0,377.9 186.8,381.9 200.4,373.0" fill="none" stroke="#55d4d5" stroke-width="0.9"/><line x1="186.8" y1="381.9" x2="186.5" y2="408.7" stroke="#55d4d5" stroke-width="0.9"/><line x1="180.2" y1="383.3" x2="180.0" y2="403.3" stroke="#55d4d5" stroke-width="0.5" opacity="0.35"/>
<polygon points="198.0,398.6 211.8,402.6 211.5,429.4 198.0,425.9" fill="#23c4c6"/><polygon points="211.8,402.6 225.4,393.7 225.4,417.6 211.5,429.4" fill="#1db8bb"/><polygon points="198.0,398.6 213.6,392.2 225.4,393.7 211.8,402.6" fill="#27c9cb"/><polyline points="198.0,398.6 211.8,402.6 225.4,393.7" fill="none" stroke="#55d4d5" stroke-width="0.9"/><line x1="211.8" y1="402.6" x2="211.5" y2="429.4" stroke="#55d4d5" stroke-width="0.9"/><line x1="205.2" y1="404.0" x2="205.0" y2="424.0" stroke="#55d4d5" stroke-width="0.5" opacity="0.35"/>
<polygon points="234.5,398.3 248.3,402.3 248.0,429.1 234.5,425.6" fill="#23c4c6"/><polygon points="248.3,402.3 261.9,393.4 261.9,417.3 248.0,429.1" fill="#1db8bb"/><polygon points="234.5,398.3 250.1,391.9 261.9,393.4 248.3,402.3" fill="#27c9cb"/><polyline points="234.5,398.3 248.3,402.3 261.9,393.4" fill="none" stroke="#55d4d5" stroke-width="0.9"/><line x1="248.3" y1="402.3" x2="248.0" y2="429.1" stroke="#55d4d5" stroke-width="0.9"/><line x1="241.7" y1="403.7" x2="241.5" y2="423.7" stroke="#55d4d5" stroke-width="0.5" opacity="0.35"/>
<polygon points="261.3,413.2 275.1,417.2 274.8,444.0 261.3,440.5" fill="#23c4c6"/><polygon points="275.1,417.2 288.7,408.3 288.7,432.2 274.8,444.0" fill="#1db8bb"/><polygon points="261.3,413.2 276.9,406.8 288.7,408.3 275.1,417.2" fill="#27c9cb"/><polyline points="261.3,413.2 275.1,417.2 288.7,408.3" fill="none" stroke="#55d4d5" stroke-width="0.9"/><line x1="275.1" y1="417.2" x2="274.8" y2="444.0" stroke="#55d4d5" stroke-width="0.9"/><line x1="268.5" y1="418.6" x2="268.3" y2="438.6" stroke="#55d4d5" stroke-width="0.5" opacity="0.35"/>
<polygon points="288.5,435.8 302.3,439.8 302.0,466.6 288.5,463.1" fill="#23c4c6"/><polygon points="302.3,439.8 315.9,430.9 315.9,454.8 302.0,466.6" fill="#1db8bb"/><polygon points="288.5,435.8 304.1,429.4 315.9,430.9 302.3,439.8" fill="#27c9cb"/><polyline points="288.5,435.8 302.3,439.8 315.9,430.9" fill="none" stroke="#55d4d5" stroke-width="0.9"/><line x1="302.3" y1="439.8" x2="302.0" y2="466.6" stroke="#55d4d5" stroke-width="0.9"/><line x1="295.7" y1="441.2" x2="295.5" y2="461.2" stroke="#55d4d5" stroke-width="0.5" opacity="0.35"/>
</g>
<g id="circles">
<circle cx="369.3" cy="148.4" r="6.7" fill="#69a9de" stroke="#52789e" stroke-width="1.6"/>
<circle cx="502.8" cy="97.3" r="6.7" fill="#8a2c42" stroke="#77657a" stroke-width="1.6"/>
<circle cx="496.0" cy="115.8" r="6.7" fill="#69a9de" stroke="#52789e" stroke-width="1.6"/>
<circle cx="756.1" cy="227.7" r="6.7" fill="#f26f26" stroke="#8f6b57" stroke-width="1.6"/>
<circle cx="745.1" cy="320.0" r="6.7" fill="#0d3fa3" stroke="#4c6b9c" stroke-width="1.6"/>
<circle cx="512.7" cy="407.0" r="6.7" fill="#69a9de" stroke="#52789e" stroke-width="1.6"/>
<circle cx="515.9" cy="426.6" r="6.7" fill="#0d3fa3" stroke="#4c6b9c" stroke-width="1.6"/>
<circle cx="147.4" cy="235.4" r="6.7" fill="#69a9de" stroke="#52789e" stroke-width="1.6"/>
<circle cx="166.3" cy="238.8" r="6.7" fill="#f26f26" stroke="#8f6b57" stroke-width="1.6"/>
<circle cx="184.2" cy="243.3" r="6.7" fill="#8a2c42" stroke="#77657a" stroke-width="1.6"/>
<circle cx="202.9" cy="247.7" r="6.7" fill="#0d3fa3" stroke="#4c6b9c" stroke-width="1.6"/>
<circle cx="114.5" cy="320.1" r="6.7" fill="#22c5c8" stroke="#2f8f99" stroke-width="1.6"/>
</g>
</svg>
</body></html>
